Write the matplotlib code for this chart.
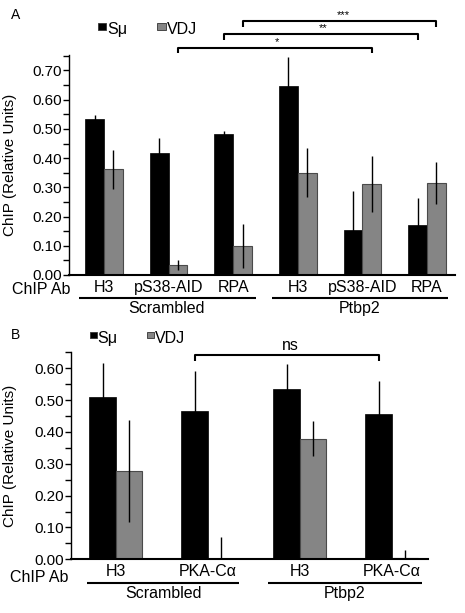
import matplotlib
matplotlib.use("Agg")
import matplotlib.pyplot as plt
import numpy as np
from matplotlib.patches import Rectangle
from matplotlib.ticker import MultipleLocator, FormatStrFormatter

plt.rcParams['font.family'] = ['Liberation Sans', 'DejaVu Sans']

# ---------------- data ----------------
series_names = ["Sμ", "VDJ"]
a_antibodies = ["H3", "pS38-AID", "RPA", "H3", "pS38-AID", "RPA"]
a_smu = [0.535, 0.419, 0.484, 0.648, 0.154, 0.171]
a_smu_err = [0.011, 0.051, 0.010, 0.097, 0.133, 0.094]
a_vdj = [0.362, 0.034, 0.099, 0.350, 0.312, 0.315]
a_vdj_err = [0.066, 0.017, 0.076, 0.084, 0.097, 0.071]

b_antibodies = ["H3", "PKA-Cα", "H3", "PKA-Cα"]
b_smu = [0.509, 0.467, 0.534, 0.457]
b_smu_err = [0.107, 0.125, 0.079, 0.103]
b_vdj = [0.278, 0.000, 0.379, 0.004]
b_vdj_err = [0.160, 0.071, 0.056, 0.024]

conditions = ["Scrambled", "Ptbp2"]
ylabel = "ChIP (Relative Units)"

BLACK = "#000000"
GRAY = "#858585"
W, H = 465, 613

fig = plt.figure(figsize=(W / 100, H / 100), dpi=100)


def fx(px):
    return px / W


def fy(py):
    return 1 - py / H


def make_axes(left, right, top, bottom):
    return fig.add_axes([fx(left), fy(bottom), fx(right) - fx(left), (bottom - top) / H])


def style(ax, ytop):
    for s in ["top", "right"]:
        ax.spines[s].set_visible(False)
    ax.spines["left"].set_linewidth(1.0)
    ax.spines["bottom"].set_linewidth(1.5)
    ax.set_ylim(0, ytop)
    ax.yaxis.set_major_locator(MultipleLocator(0.1))
    ax.yaxis.set_minor_locator(MultipleLocator(0.05))
    ax.yaxis.set_major_formatter(FormatStrFormatter("%.2f"))
    ax.tick_params(axis="y", which="both", direction="out", length=4, width=1, pad=1,
                   labelsize=11)
    ax.set_xticks([])
    ax.set_ylabel(ylabel, fontsize=11)


def draw_bars(ax, n, smu, smu_err, vdj, vdj_err, w):
    x = np.arange(n)
    ekw = dict(ecolor="black", elinewidth=1.0, capsize=0)
    ax.bar(x - w / 2, smu, w, yerr=smu_err, color=BLACK, edgecolor=BLACK, lw=0.5,
           error_kw=ekw, zorder=2)
    ax.bar(x + w / 2, vdj, w, yerr=vdj_err, color=GRAY, edgecolor="#4a4a4a", lw=0.8,
           error_kw=ekw, zorder=2)
    return x


def bracket(ax, x1, x2, y, drop, label, lx, ly, fs):
    ax.plot([x1, x1, x2, x2], [y - drop, y, y, y - drop], color="black", lw=1.5,
            clip_on=False, solid_capstyle="butt")
    ax.text(lx, ly, label, ha="center", va="center", fontsize=fs, clip_on=False)


def legend(sq1, t1, sq2, t2, top, bottom, ty):
    for (l, r), col in [(sq1, BLACK), (sq2, GRAY)]:
        fig.patches.append(Rectangle((fx(l), fy(bottom)), fx(r) - fx(l), (bottom - top) / H,
                                     transform=fig.transFigure, facecolor=col,
                                     edgecolor="#333333", lw=0.6))
    fig.text(fx(t1), fy(ty), series_names[0], fontsize=11.5, va="center", ha="left")
    fig.text(fx(t2), fy(ty), series_names[1], fontsize=11.5, va="center", ha="left")


def group_labels(ax, labels, row_frac, line_frac, spans, cond_frac, cond_x):
    tr = ax.get_xaxis_transform()
    for i, lab in enumerate(labels):
        ax.text(i, row_frac, lab, transform=tr, ha="center", va="center", fontsize=11.5,
                clip_on=False)
    for (x1, x2), cx, name in zip(spans, cond_x, conditions):
        ax.plot([x1, x2], [line_frac, line_frac], transform=tr, color="black", lw=1.5,
                clip_on=False, solid_capstyle="butt")
        ax.text(cx, cond_frac, name, transform=tr, ha="center", va="center",
                fontsize=11.5, clip_on=False)


# ---------------- panel A ----------------
pxA = 64.6
c0A = 104
axA = make_axes(69, 455, 55, 275)
style(axA, 0.753)
wA = 0.29
draw_bars(axA, len(a_antibodies), a_smu, a_smu_err, a_vdj, a_vdj_err, wA)
axA.set_xlim((69 - c0A) / pxA, (455 - c0A) / pxA)
axA.yaxis.set_label_coords((17.5 - 69) / 386, 0.5)

unitA = 0.753 / 220


def vA(py):
    return (275 - py) * unitA


def dA(px):
    return (px - c0A) / pxA


bracket(axA, 1 + wA / 2, 4 + wA / 2, vA(47.7), 5.5 * unitA, "*", dA(277), vA(42), 8)
bracket(axA, 2 - wA / 2, 5 - wA / 2, vA(34), 5.5 * unitA, "**", dA(323), vA(28.5), 8)
bracket(axA, 2 + wA / 2, 5 + wA / 2, vA(21), 5.5 * unitA, "***", dA(343), vA(15), 8)

group_labels(axA, a_antibodies, (275 - 287.5) / 220, (275 - 298) / 220,
             [(dA(79), dA(256)), (dA(272), dA(448))], (275 - 308.5) / 220,
             [dA(167), dA(360)])
fig.text(fx(12), fy(289.5), "ChIP Ab", fontsize=11.5, va="center", ha="left")
fig.text(fx(16), fy(15), "A", fontsize=10, va="center", ha="center")
legend((98, 106), 107, (157, 166), 167, 23, 30, 29.5)

# ---------------- panel B ----------------
pxB = 92.0
c0B = 115.7
axB = make_axes(70.7, 428, 351.7, 559.3)
style(axB, 0.652)
wB = 0.286
draw_bars(axB, len(b_antibodies), b_smu, b_smu_err, b_vdj, b_vdj_err, wB)
axB.set_xlim((70.7 - c0B) / pxB, (428 - c0B) / pxB)
axB.yaxis.set_label_coords((17.5 - 70.7) / 357.3, 0.5)

unitB = 0.652 / 207.6


def vB(py):
    return (559.3 - py) * unitB


def dB(px):
    return (px - c0B) / pxB


bracket(axB, 1 - wB / 2, 3 - wB / 2, vB(355), 6 * unitB, "ns", dB(290), vB(345), 11.5)

group_labels(axB, b_antibodies, (559.3 - 571.7) / 207.6, (559.3 - 582.7) / 207.6,
             [(dB(86.7), dB(239.3)), (dB(268.3), dB(421.7))], (559.3 - 593.3) / 207.6,
             [dB(163.3), dB(345)])
fig.text(fx(10), fy(577), "ChIP Ab", fontsize=11.5, va="center", ha="left")
fig.text(fx(15), fy(335), "B", fontsize=10, va="center", ha="center")
legend((90, 97), 97.5, (146.7, 154), 155, 331.7, 338, 339)

fig.savefig("out.png", dpi=100)
